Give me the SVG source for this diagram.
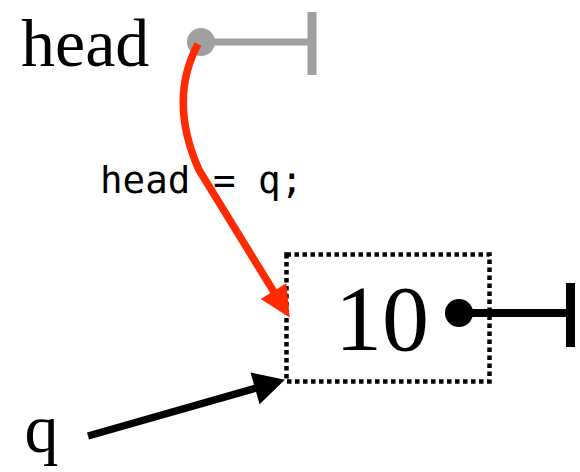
<svg xmlns="http://www.w3.org/2000/svg" width="580" height="472" viewBox="0 0 580 472">
<style>
.serif{font-family:"Liberation Serif","Times New Roman",serif;fill:#000}
.mono{font-family:"DejaVu Sans Mono","Liberation Mono",monospace;fill:#000}
.box{fill:none;stroke:#000;stroke-width:4.5;stroke-dasharray:4.5 3.5}
.gray{stroke:#a0a0a0;fill:none}
.blk{stroke:#000;fill:none}
</style>
<defs>
<marker id="redHead" markerUnits="userSpaceOnUse" orient="auto" markerWidth="32" markerHeight="32" refX="0" refY="15" overflow="visible">
<path d="M-1,0 L30,15 L-1,30 Z" fill="#ff2a00"/>
</marker>
<marker id="blkHead" markerUnits="userSpaceOnUse" orient="auto" markerWidth="32" markerHeight="34" refX="0" refY="16.5" overflow="visible">
<path d="M-1,0 L30,16.5 L-1,33 Z" fill="#000"/>
</marker>
</defs>
<g id="head">
<text class="serif" x="21" y="66" font-size="68">head</text>
<line class="gray" x1="201" y1="42" x2="312" y2="42" stroke-width="7"/>
<line class="gray" x1="312" y1="12" x2="312" y2="75" stroke-width="9"/>
<circle cx="201" cy="42" r="14" fill="#a0a0a0"/>
</g>
<g id="node10">
<rect class="box" x="286.5" y="254.5" width="203" height="127"/>
<text class="serif" x="335" y="350" font-size="94">10</text>
<line class="blk" x1="459" y1="313" x2="570" y2="313" stroke-width="8"/>
<line class="blk" x1="570.5" y1="283" x2="570.5" y2="347" stroke-width="9"/>
<circle cx="459" cy="313" r="14" fill="#000"/>
</g>
<g id="q">
<text class="serif" x="24.5" y="452" font-size="68">q</text>
</g>
<g id="label">
<text class="mono" x="100" y="193" font-size="37.5">head = q;</text>
</g>
<g id="connectors">
<path d="M198,44 Q168,100 199,170 L274,292" stroke="#ff2a00" stroke-width="7.5" fill="none" marker-end="url(#redHead)"/>
<path d="M88,436 L256,388" stroke="#000" stroke-width="7.5" fill="none" marker-end="url(#blkHead)"/>
</g>
</svg>
